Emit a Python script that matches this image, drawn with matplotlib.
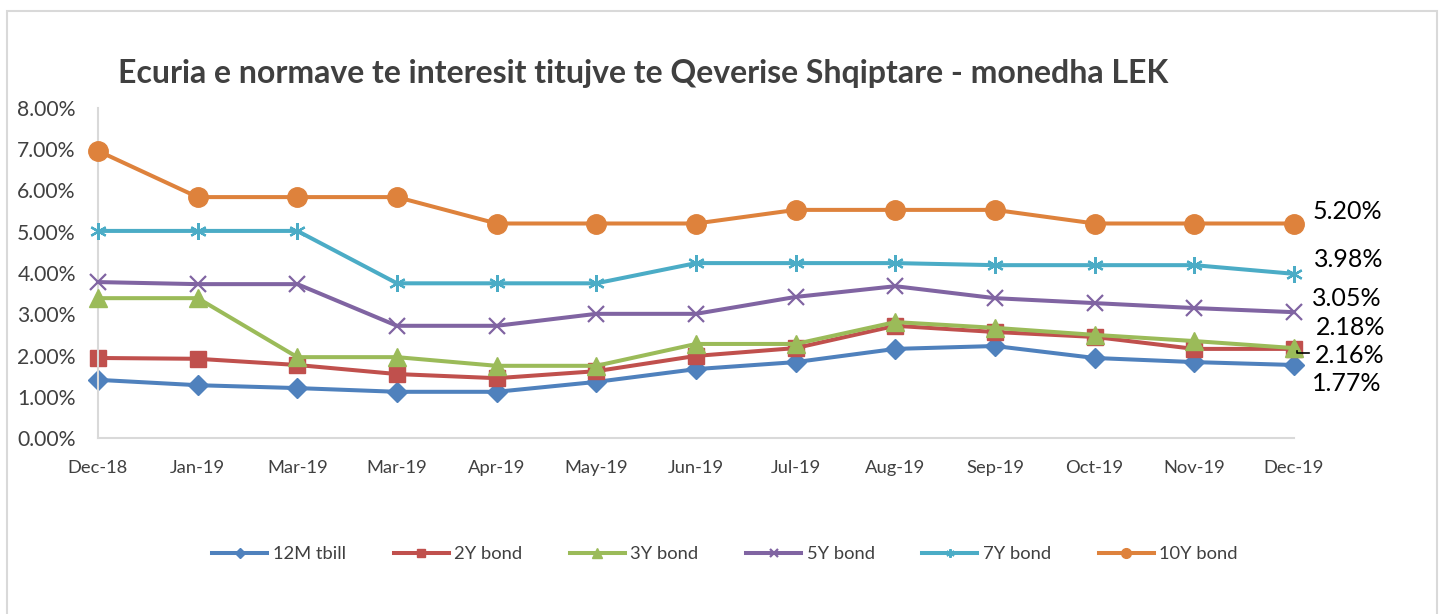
import matplotlib
matplotlib.use("Agg")
import matplotlib.pyplot as plt
from matplotlib.patches import Rectangle
from matplotlib.ticker import FuncFormatter

months = ["Dec-18", "Jan-19", "Mar-19", "Mar-19", "Apr-19", "May-19", "Jun-19",
          "Jul-19", "Aug-19", "Sep-19", "Oct-19", "Nov-19", "Dec-19"]

tbill_12m = [1.41, 1.28, 1.21, 1.12, 1.12, 1.36, 1.67, 1.84, 2.16, 2.23, 1.94, 1.84, 1.77]
bond_2y = [1.94, 1.92, 1.77, 1.55, 1.45, 1.62, 1.99, 2.18, 2.72, 2.57, 2.45, 2.16, 2.16]
bond_3y = [3.39, 3.39, 1.96, 1.96, 1.75, 1.75, 2.28, 2.28, 2.81, 2.67, 2.50, 2.35, 2.18]
bond_5y = [3.78, 3.73, 3.73, 2.72, 2.72, 3.01, 3.01, 3.42, 3.68, 3.39, 3.27, 3.15, 3.05]
bond_7y = [5.02, 5.02, 5.02, 3.75, 3.75, 3.75, 4.24, 4.24, 4.24, 4.19, 4.19, 4.19, 3.98]
bond_10y = [6.96, 5.84, 5.84, 5.84, 5.20, 5.20, 5.20, 5.53, 5.53, 5.53, 5.20, 5.20, 5.20]

series_names = ["12M tbill", "2Y bond", "3Y bond", "5Y bond", "7Y bond", "10Y bond"]
title = "Ecuria e normave te interesit titujve te Qeverise Shqiptare - monedha LEK"

plt.rcParams['font.family'] = ['Lato', 'DejaVu Sans']

fig = plt.figure(figsize=(14.4, 6.14), dpi=100)
W, H = 1440, 614

# outer frame
fig.patches.append(Rectangle((7 / W, -0.05), (1437 - 7) / W, 1.05 - 10.5 / H,
                             transform=fig.transFigure, fill=False,
                             edgecolor="#D9D9D9", linewidth=1.5))

ax = fig.add_axes([98 / W, 1 - 438 / H, (1294 - 98) / W, (438 - 108) / H])

styles = [
    (tbill_12m, "#4F81BD", "D", 10, 1),
    (bond_2y, "#C0504D", "s", 12, 2),
    (bond_3y, "#9BBB59", "^", 13, 3),
    (bond_5y, "#8064A2", "x", 11, 4),
    (bond_7y, "#4BACC6", (6, 2, 0), 12, 5),
    (bond_10y, "#DE823C", "o", 14, 6),
]

x = list(range(len(months)))
handles = []
for (vals, color, marker, ms, z), name in zip(styles, series_names):
    mew = 1.6 if marker in ("x",) or isinstance(marker, tuple) else 1
    ln, = ax.plot(x, vals, color=color, linewidth=2.9, marker=marker,
                  markersize=ms, markeredgewidth=mew, markeredgecolor=color,
                  markerfacecolor=color, label=name, zorder=z, clip_on=False)
    handles.append(ln)

ax.set_xlim(0, 12)
ax.set_ylim(0, 8)
ax.set_xticks(x)
ax.set_xticklabels(months, fontsize=13.2, color="#404040")
ax.set_yticks([0, 1, 2, 3, 4, 5, 6, 7, 8])
ax.yaxis.set_major_formatter(FuncFormatter(lambda v, p: f"{v:.2f}%"))
ax.tick_params(axis="y", labelsize=15.2, colors="#404040", length=0, pad=16)
ax.tick_params(axis="x", length=0, pad=16)
for lbl in ax.get_yticklabels():
    lbl.set_color("#404040")
for s in ["top", "right"]:
    ax.spines[s].set_visible(False)
ax.spines["left"].set_color("#D9D9D9")
ax.spines["bottom"].set_color("#D9D9D9")
ax.spines["left"].set_linewidth(1.5)
ax.spines["bottom"].set_linewidth(1.5)

# end value labels
last = len(months) - 1
end_labels = [
    (bond_10y[last], 0.28, 1313),
    (bond_7y[last], 0.34, 1314),
    (bond_5y[last], 0.32, 1312),
    (bond_3y[last], 0.51, 1316),
    (bond_2y[last], -0.15, 1315),
    (tbill_12m[last], -0.44, 1312),
]
for val, dy, xp in end_labels:
    xd = (xp - 98) / (1294 - 98) * 12
    ax.text(xd, val + dy, f"{val:.2f}%", fontsize=18, color="black",
            va="center", ha="left", clip_on=False)

# leader line for 2.16%
x0 = (1297 - 98) / (1294 - 98) * 12
x1 = (1309 - 98) / (1294 - 98) * 12
ax.plot([x0, x0, x1], [2.12, 2.05, 2.05], color="black", linewidth=1.2,
        clip_on=False, zorder=10)

fig.text(643 / W, 1 - 73 / H, title, fontsize=23, fontweight="bold",
         color="#404040", ha="center", va="center")

fig.legend(handles=handles, labels=series_names, loc="center",
           bbox_to_anchor=(725 / W, 1 - 554 / H), ncol=6, frameon=False,
           fontsize=13.2, handlelength=3.0, columnspacing=2.6, markerscale=0.5,
           handletextpad=0.3, labelcolor="#404040")

fig.savefig("out.png", dpi=100)
